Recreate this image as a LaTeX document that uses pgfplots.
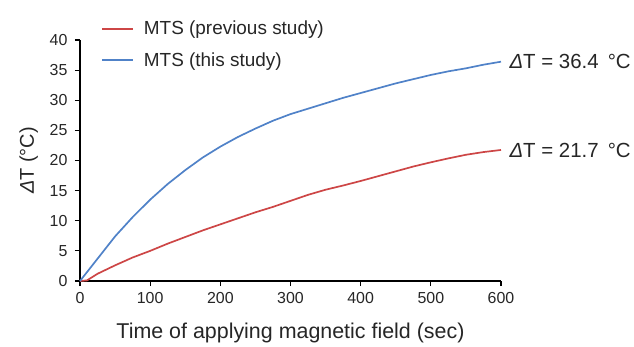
\documentclass[border=0pt]{standalone}
\usepackage{pgfplots}
\pgfplotsset{compat=1.18}
\usepackage{fontspec}
\setmainfont{Liberation Sans}
\definecolor{myred}{RGB}{205,70,70}
\definecolor{myblue}{RGB}{80,130,200}
\pgfplotstableread{
t v
0 0
25 3.7
50 7.4
75 10.6
100 13.5
125 16.1
150 18.4
175 20.5
200 22.3
225 23.9
250 25.3
275 26.6
300 27.7
325 28.6
350 29.5
375 30.4
400 31.2
425 32.0
450 32.8
475 33.5
500 34.2
525 34.8
550 35.3
575 35.9
600 36.4
}\blue
\pgfplotstableread{
t v
0 0
10 0.1
25 1.2
50 2.6
75 3.9
100 5.0
125 6.2
150 7.3
175 8.4
200 9.4
225 10.4
250 11.4
275 12.3
300 13.3
325 14.3
350 15.15
375 15.85
400 16.6
425 17.4
450 18.2
475 19.0
500 19.7
525 20.35
550 20.95
575 21.4
600 21.75
}\red
\begin{document}
\begin{tikzpicture}
\path[use as bounding box] (0,0) rectangle (634bp,347bp);
\begin{axis}[
  at={(80bp,66bp)}, anchor=south west,
  scale only axis, width=421bp, height=241bp,
  xmin=0, xmax=600, ymin=0, ymax=40,
  axis lines=left,
  axis line style={-, line width=1.2bp},
  xtick={0,100,...,600}, ytick={0,5,...,40},
  tick align=outside, major tick length=5bp,
  tick style={line width=1.2bp, black},
  /pgf/number format/assume math mode=true,
  tick label style={font=\fontsize{16}{19}\selectfont, text=black!85},
  xticklabel style={yshift=-3bp},
  yticklabel style={xshift=-4bp},
  xlabel={Time of applying magnetic field (sec)},
  ylabel={\textit{Δ}T (°C)},
  xlabel style={font=\fontsize{21.5}{25}\selectfont, text=black!85, yshift=-12bp},
  ylabel style={font=\fontsize{20}{24}\selectfont, text=black!85, yshift=5bp},
  legend style={draw=none, fill=none, at={(0.05,1.087)}, anchor=north west,
    font=\fontsize{19}{23}\selectfont, text=black!85, row sep=12bp, inner sep=0pt,
    nodes={inner xsep=10bp}},
  legend cell align=left,
  legend image code/.code={\draw[#1, line width=1.7bp] (0bp,0bp) -- (31bp,0bp);},
  clip=false,
]
\addplot[myred, line width=1.7bp] table[x=t,y=v] {\red};
\addlegendentry{MTS (previous study)}
\addplot[myblue, line width=1.7bp] table[x=t,y=v] {\blue};
\addlegendentry{MTS (this study)}
\node[anchor=west, font=\fontsize{20.5}{24}\selectfont, text=black!85] at (axis cs:600,36.4) [xshift=5bp] {\textit{Δ}T = 36.4 \,°C};
\node[anchor=west, font=\fontsize{20.5}{24}\selectfont, text=black!85] at (axis cs:600,21.7) [xshift=5bp] {\textit{Δ}T = 21.7 \,°C};
\end{axis}
\end{tikzpicture}
\end{document}
